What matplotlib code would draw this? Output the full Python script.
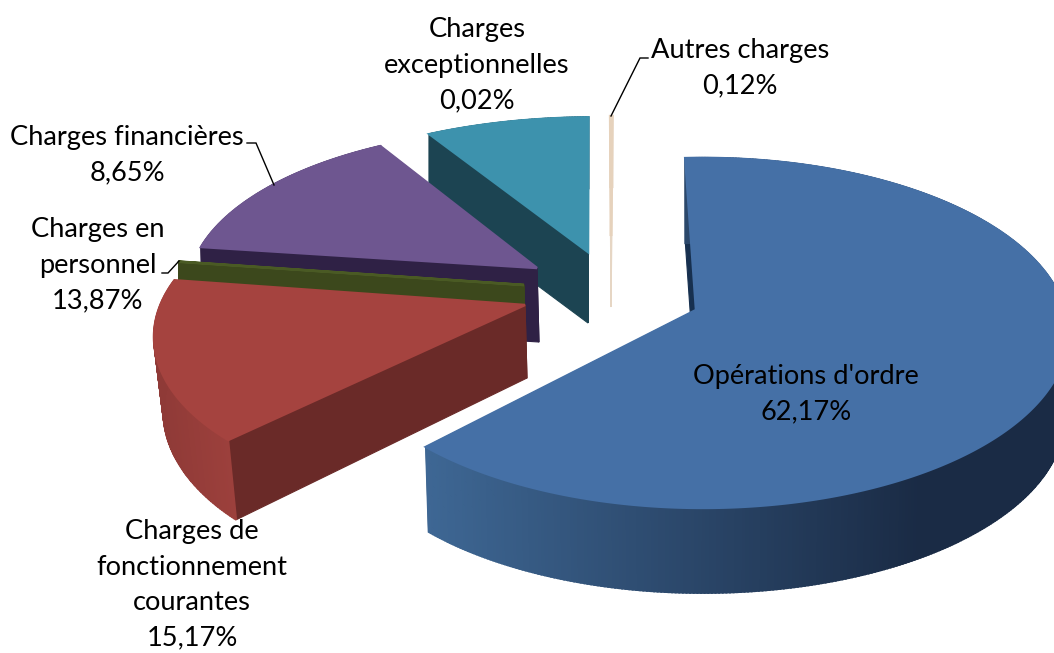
import numpy as np
import matplotlib
matplotlib.use("Agg")
import matplotlib.pyplot as plt
from matplotlib.colors import to_rgb
from matplotlib.patches import Polygon

# ---- data (slice order, clockwise) ----
slice_names = ["Opérations d'ordre", "Charges de fonctionnement courantes",
               "Charges exceptionnelles", "Charges en personnel",
               "Charges financières", "Autres charges"]
slice_values = [62.17, 15.17, 0.02, 13.87, 8.65, 0.12]

# ---- labels as printed on the chart ----
label_texts = ["Opérations d'ordre\n62,17%",
               "Charges de\nfonctionnement\ncourantes\n15,17%",
               "Charges\nexceptionnelles\n0,02%",
               "Charges en\npersonnel\n13,87%",
               "Charges financières\n8,65%",
               "Autres charges\n0,12%"]

# ---- styles and projection of the 3-D look ----
FIRST_ANGLE = -2.0
top_colors = ["#4570a6", "#a5433f", "#4a5a24", "#6e5690", "#3d92ad", "#e6d2bc"]
radial_colors = ["#17304f", "#6a2a28", "#3c481c", "#2f2145", "#1c4452", "#e6d6c4"]
rim_from = ["#3e6794", "#8f3a37", "#3c481c", "#2f2145", "#1c4452", "#e6d6c4"]
rim_to = ["#1a2b45", "#9c403c", "#3c481c", "#2f2145", "#1c4452", "#e6d6c4"]
# apex in pixels, half axes, perspective shift of apex, depth, depth scale,
# angle turn, angular gain of the perspective, rim fade length
views = [
    dict(apex=(696, 310), a=365, b=175, q=(-0.019, -0.131), depth=(0, 85), s=(0.99, 1.0), turn=0, gain=1.006, fade=0.77),
    dict(apex=(525, 305), a=316, b=160, q=(0.174, -0.20), depth=(2, 73), s=(0.98, 1.05), turn=6, gain=0.90, fade=1),
    dict(apex=(524, 285), a=363, b=205, q=(-0.019, -0.131), depth=(2, 73), s=(1, 1), turn=0.5, gain=1, fade=1),
    dict(apex=(537, 268), a=355, b=161, q=(-0.019, -0.131), depth=(2, 74), s=(1, 1), turn=1.5, gain=1.04, fade=1),
    dict(apex=(588, 252), a=365, b=155, q=(-0.019, -0.131), depth=(0, 71), s=(1, 1), turn=4, gain=0.95, fade=1),
    dict(apex=(611, 236), a=360, b=138, q=(-0.019, -0.131), depth=(0, 71), s=(1, 1), turn=2.2, gain=1, fade=1),
]
draw_order = [5, 4, 3, 2, 1, 0]
label_centers = [(806, 394), (192, 585), (477, 65), (98, 265), (127, 155), (740, 68)]
leaders = [[(247, 143), (256, 143), (274, 185)],
           [(162, 273), (168, 273), (179, 261)],
           [(648, 58), (640, 58), (611, 116)]]


def rim_point(theta_deg, v):
    """Point of the slice's rim for a pie angle: disc boost to the apex, then ellipse."""
    t = np.radians(theta_deg)
    p = np.stack([np.sin(t), -np.cos(t)], axis=-1)
    q = np.array(v["q"], float)
    beta = np.hypot(*q)
    n = q / beta
    m = np.array([-n[1], n[0]])
    par, per = p @ n, p @ m
    den = 1 + beta * par
    par2 = (par + beta) / den
    per2 = per * np.sqrt(1 - beta ** 2) / den
    d = np.outer(par2, n) + np.outer(per2, m)
    apex = np.array(v["apex"], float)
    return apex + (d - q) * np.array([v["a"], v["b"]])


def lower(pts, v):
    apex = np.array(v["apex"], float)
    return apex + np.array(v["depth"], float) + (pts - apex) * np.array(v["s"], float)


fig = plt.figure(figsize=(10.54, 6.53), dpi=100)
ax = fig.add_axes([0, 0, 1, 1])
ax.set_xlim(0, 1054)
ax.set_ylim(653, 0)
ax.axis("off")

shares = np.array(slice_values) / sum(slice_values) * 360
starts = FIRST_ANGLE + np.concatenate([[0], np.cumsum(shares)[:-1]])

for i in draw_order:
    v = views[i]
    a0 = starts[i] + v["turn"]
    n_pts = max(int(shares[i] * 2), 2)
    th = np.linspace(a0, a0 + shares[i] * v["gain"], n_pts)
    rim = rim_point(th, v)
    rim_low = lower(rim, v)
    apex = np.array(v["apex"], float)
    apex_low = lower(apex[None, :], v)[0]
    for k in (0, -1):
        ax.add_patch(Polygon([apex, rim[k], rim_low[k], apex_low], closed=True,
                             fc=radial_colors[i], ec=radial_colors[i], lw=0.8))
    c0, c1 = np.array(to_rgb(rim_from[i])), np.array(to_rgb(rim_to[i]))
    xmin, xmax = rim[:, 0].min(), rim[:, 0].max()
    for k in range(n_pts - 1):
        f = np.clip((rim[k, 0] - xmin) / (v["fade"] * (xmax - xmin) + 1e-9), 0, 1)
        col = c0 * (1 - f) + c1 * f
        ax.add_patch(Polygon([rim[k], rim[k + 1], rim_low[k + 1], rim_low[k]], closed=True,
                             fc=col, ec=col, lw=1.4))
    ax.add_patch(Polygon(np.vstack([apex, rim]), closed=True,
                         fc=top_colors[i], ec=top_colors[i], lw=1.8))

for path in leaders:
    xs, ys = zip(*path)
    ax.plot(xs, ys, color="black", lw=1.0, solid_joinstyle="miter")

for txt, (x, y) in zip(label_texts, label_centers):
    ax.text(x, y, txt, ha="center", va="center", family="Lato", fontsize=19.6,
            color="black", linespacing=1.52)

fig.savefig("out.png", dpi=100)
